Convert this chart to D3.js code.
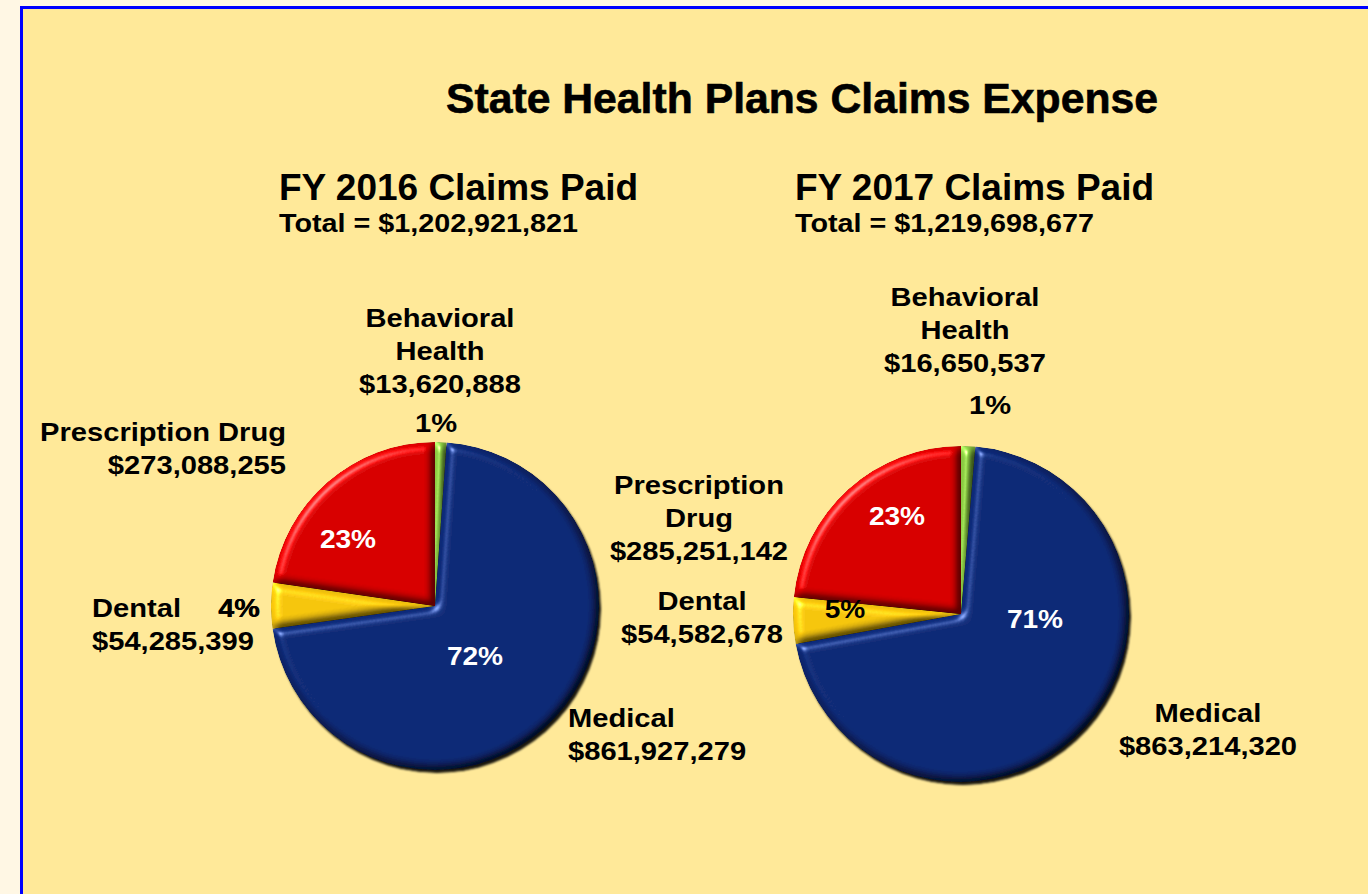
<!DOCTYPE html>
<html>
<head>
<meta charset="utf-8">
<script src="https://cdn.jsdelivr.net/npm/d3@7"></script>
<style>
  html, body { margin: 0; padding: 0; background: #fff7e4; }
  svg { display: block; }
  text { font-family: "Liberation Sans", Arial, sans-serif; font-weight: bold; }
</style>
</head>
<body>
<svg id="figure"></svg>
<script>
var fullWidth = 1368, fullHeight = 894;

// slice order, clockwise from 12 o'clock
var categories = ["Behavioral Health", "Medical", "Dental", "Prescription Drug"];
var colors = ["#86c440", "#0c2772", "#f2c20c", "#d40000"];
var values2016 = [13620888, 861927279, 54285399, 273088255];
var values2017 = [16650537, 863214320, 54582678, 285251142];
var pctLabels2016 = ["1%", "72%", "4%", "23%"];
var pctLabels2017 = ["1%", "71%", "5%", "23%"];
var totals = ["$1,202,921,821", "$1,219,698,677"];
var years = ["FY 2016 Claims Paid", "FY 2017 Claims Paid"];

var svg = d3.select("#figure").attr("width", fullWidth).attr("height", fullHeight);

// frame
svg.append("rect").attr("x", 21.5).attr("y", 7.5).attr("width", 1400).attr("height", 1000)
    .attr("fill", "#ffe999").attr("stroke", "#0000ff").attr("stroke-width", 3);

var defs = svg.append("defs");
var bevel = defs.append("filter").attr("id", "bevel").attr("color-interpolation-filters", "sRGB")
    .attr("x", "-5%").attr("y", "-5%").attr("width", "110%").attr("height", "110%");
bevel.append("feGaussianBlur").attr("in", "SourceAlpha").attr("stdDeviation", 4).attr("result", "blur");
var spec = bevel.append("feSpecularLighting").attr("in", "blur").attr("surfaceScale", 5)
    .attr("specularConstant", 0.8).attr("specularExponent", 40).attr("lighting-color", "#ffffff").attr("result", "spec");
spec.append("feDistantLight").attr("azimuth", 225).attr("elevation", 45);
bevel.append("feComposite").attr("in", "spec").attr("in2", "SourceAlpha").attr("operator", "in").attr("result", "specIn");
var diff = bevel.append("feDiffuseLighting").attr("in", "blur").attr("surfaceScale", 5)
    .attr("diffuseConstant", 1).attr("lighting-color", "#ffffff").attr("result", "diff");
diff.append("feDistantLight").attr("azimuth", 225).attr("elevation", 60);
bevel.append("feComposite").attr("in", "SourceGraphic").attr("in2", "diff").attr("operator", "arithmetic")
    .attr("k1", 1.15).attr("k2", 0).attr("k3", 0).attr("k4", 0).attr("result", "lit");
bevel.append("feComposite").attr("in", "lit").attr("in2", "specIn").attr("operator", "arithmetic")
    .attr("k1", 0).attr("k2", 1).attr("k3", 0.6).attr("k4", 0).attr("result", "out");
bevel.append("feComposite").attr("in", "out").attr("in2", "SourceAlpha").attr("operator", "in");

var shadow = defs.append("filter").attr("id", "shadow").attr("x", "-10%").attr("y", "-10%").attr("width", "120%").attr("height", "120%");
shadow.append("feDropShadow").attr("dx", 2).attr("dy", 3).attr("stdDeviation", 1.2)
    .attr("flood-color", "#000").attr("flood-opacity", 0.9);

// title
svg.append("text").text("State Health Plans Claims Expense")
    .attr("x", 446).attr("y", 113).attr("font-size", 42)
    .attr("textLength", 712).attr("lengthAdjust", "spacingAndGlyphs").attr("fill", "#000")
    .attr("stroke", "#000").attr("stroke-width", 0.6);

var pies = [
  {values: values2016, pcts: pctLabels2016, cx: 435, cy: 606, r: 164, hx: 279, total: totals[0], year: years[0],
   pctPos: [null, [475, 665, "#fff"], [239, 617, "#000"], [348, 548, "#fff"]]},
  {values: values2017, pcts: pctLabels2017, cx: 961, cy: 614, r: 168, hx: 795, total: totals[1], year: years[1],
   pctPos: [null, [1035, 628, "#fff"], [845, 618, "#000"], [897, 525, "#fff"]]}
];

var pie = d3.pie().sort(null).value(function (d) { return d; });

// bold text, slightly widened like the original
function wide(sel, k) {
    sel.each(function () {
        var w = this.getComputedTextLength();
        d3.select(this).attr("textLength", w * k).attr("lengthAdjust", "spacingAndGlyphs");
    });
    return sel;
}

pies.forEach(function (p) {
    svg.append("text").text(p.year).attr("x", p.hx).attr("y", 200).attr("font-size", 36)
        .attr("textLength", 359).attr("lengthAdjust", "spacingAndGlyphs");
    svg.append("text").text("Total = " + p.total).attr("x", p.hx).attr("y", 232).attr("font-size", 25)
        .attr("textLength", 299).attr("lengthAdjust", "spacingAndGlyphs");

    var arc = d3.arc().innerRadius(0).outerRadius(p.r);
    var g = svg.append("g").attr("transform", "translate(" + p.cx + "," + p.cy + ")");
    var gs = g.append("g").attr("filter", "url(#shadow)");
    gs.selectAll("path").data(pie(p.values)).enter().append("path")
        .attr("d", arc).attr("fill", function (d, i) { return colors[i]; })
        .attr("filter", "url(#bevel)");

    p.pctPos.forEach(function (pos, i) {
        if (!pos) return;
        wide(svg.append("text").text(p.pcts[i]).attr("x", pos[0]).attr("y", pos[1])
            .attr("text-anchor", "middle").attr("font-size", 26).attr("fill", pos[2]), 1.08);
    });
});

var fmt = d3.format("$,");
function label(lines, x, y, anchor) {
    lines.forEach(function (s, i) {
        wide(svg.append("text").attr("font-size", 26).attr("text-anchor", anchor || "middle")
            .attr("x", x).attr("y", y + i * 33).text(s), 1.12);
    });
}

// FY 2016 labels
label(["Behavioral", "Health", fmt(values2016[0])], 440, 327);
label([pctLabels2016[0]], 436, 432);
label(["Prescription Drug"], 286, 441, "end");
label([fmt(values2016[3])], 286, 474, "end");
label(["Dental"], 92, 617, "start");
label([pctLabels2016[2]], 239, 617);
label([fmt(values2016[2])], 92, 650, "start");
label(["Medical", fmt(values2016[1])], 568, 727, "start");

// FY 2017 labels
label(["Behavioral", "Health", fmt(values2017[0])], 965, 306);
label([pctLabels2017[0]], 990, 414);
label(["Prescription", "Drug", fmt(values2017[3])], 699, 494);
label(["Dental", fmt(values2017[2])], 702, 610);
label(["Medical", fmt(values2017[1])], 1208, 722);
</script>
</body>
</html>
